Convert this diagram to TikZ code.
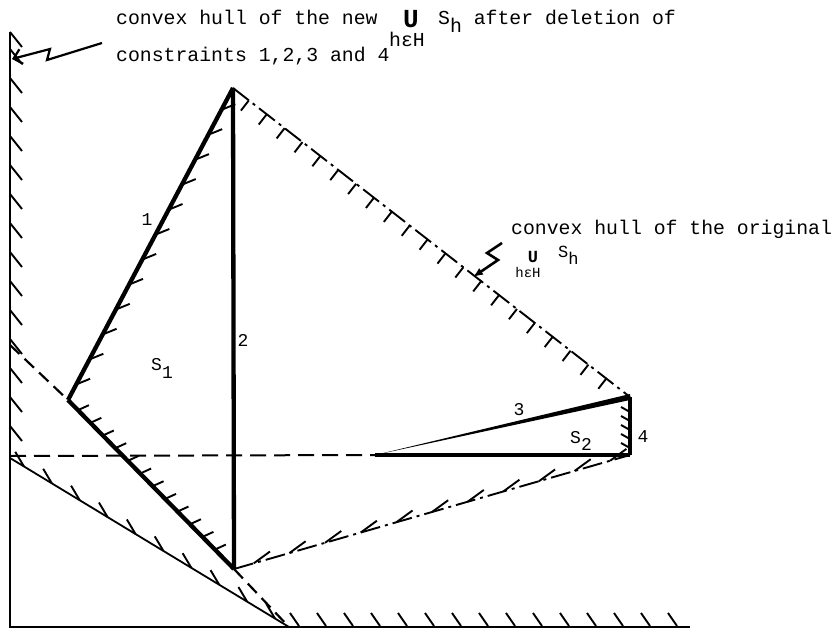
\documentclass[tikz,border=0pt]{standalone}
\usepackage{fontspec}
\newfontfamily\hullfont{Liberation Mono}
\usetikzlibrary{arrows.meta,calc}

\begin{document}
\begin{tikzpicture}[x=1pt,y=-1pt,
    font=\hullfont\fontsize{19.8}{22}\selectfont,
    axisline/.style={line width=2.6pt},
    edge/.style={line width=4.3pt},
    thinline/.style={line width=1.8pt},
    hatch/.style={line width=1.9pt},
    hullline/.style={line width=1.9pt, dash pattern=on 20pt off 5pt on 3pt off 5pt},
    boundline/.style={line width=2.2pt, dash pattern=on 13pt off 7pt},
    txt/.style={inner sep=0pt, anchor=base west},
    lbl/.style={inner sep=0pt, font=\hullfont\fontsize{18}{20}\selectfont}
  ]
  \useasboundingbox (0,0) rectangle (837,628);

  % axes and vertices
  \coordinate (top) at (10,32);
  \coordinate (orig) at (10,628);
  \coordinate (xend) at (690,627);
  \coordinate (A) at (233,88);
  \coordinate (B) at (68,400);
  \coordinate (C) at (234,569);
  \coordinate (D) at (630,397);
  \coordinate (E) at (630,455);
  \coordinate (F) at (375,455);
  \coordinate (P) at (10,345);
  \coordinate (Q) at (289,627);
  \coordinate (R) at (10,458);
  \coordinate (H) at (10,456);

  \draw[axisline] (top) -- (orig);
  \draw[line width=2pt] (10,627) -- (xend);
  \foreach \y in {32,49,78,...,440}
    \draw[hatch] (10,\y) -- ++(12,15);
  \foreach \x in {290,317,...,680}
    \draw[hatch] (\x,613) -- ++(9,13);

  % constraint lines through the hull
  \draw[boundline] (P) -- (B);
  \draw[boundline] (C) -- (Q);
  \draw[thinline] (R) -- (Q);
  \draw[line width=2pt, dash pattern=on 16pt off 8pt] (H) -- (F);

  % original hull
  \draw[hullline] (A) -- (D);
  \draw[hullline] (C) -- (E);
  \foreach \t in {0.04,0.085,...,0.97}{
    \coordinate (p) at ($(A)!\t!(D)$);
    \draw[hatch] (p) -- ($(p)!13pt!-90:(D)$);
  }
  \foreach \t in {0.05,0.14,...,0.95}{
    \coordinate (p) at ($(C)!\t!(E)$);
    \draw[hatch] (p) -- ($(p)!20pt!20:(E)$);
  }
  \foreach \t in {0.05,0.15,...,0.96}{
    \coordinate (p) at ($(Q)!\t!(R)$);
    \draw[hatch] (p) -- ($(p)!17pt!-28:(R)$);
  }

  % the sets S1 and S2
  \draw[edge] (A) -- (B);
  \draw[edge] (A) -- (C);
  \draw[edge] (B) -- (C);
  \foreach \t in {0.05,0.13,...,0.98}{
    \coordinate (p) at ($(B)!\t!(A)$);
    \draw[hatch] (p) -- ($(p)!15pt!-40:(A)$);
  }
  \foreach \t in {0.06,0.135,...,0.95}{
    \coordinate (p) at ($(B)!\t!(C)$);
    \draw[hatch] (p) -- ($(p)!12pt!70:(C)$);
  }
  \fill (F) -- ($(D)+(0,-3)$) -- ($(D)+(0,3)$) -- cycle;
  \draw[line width=3.5pt] (F) -- (E);
  \draw[edge] (D) -- (E);
  \foreach \y in {412,421,...,450}
    \draw[hatch] (630,\y) -- ++(-9,-5);

  % texts
  \node[txt] (newhull) at (116,25) {convex hull of the new};
  \node[inner sep=0pt, anchor=base] (newU) at (411,28) {\fontsize{26}{26}\selectfont\bfseries U};
  \node[inner sep=0pt, anchor=base] (newH) at (407,47) {hεH};
  \node[txt] (newS) at (438,25) {S\raisebox{-8pt}{h} after deletion of};
  \node[txt] (constr) at (116,62) {constraints 1,2,3 and 4};
  \node[txt] (oldhull) at (511,235) {convex hull of the original};
  \node[inner sep=0pt, anchor=base] (oldU) at (533,262) {\fontsize{17}{17}\selectfont\bfseries U};
  \node[inner sep=0pt, anchor=base west] (oldS) at (558,258) {\fontsize{17}{17}\selectfont S\raisebox{-6pt}{h}};
  \node[inner sep=0pt, anchor=base] (oldH) at (528,277) {\fontsize{14}{14}\selectfont hεH};

  \node[lbl] (lab1) at (147,220) {1};
  \node[lbl] (lab2) at (243,340) {2};
  \node[lbl] (lab3) at (519,410) {3};
  \node[lbl] (lab4) at (643,437) {4};
  \node[lbl, anchor=base west] (labS1) at (151,370) {S\raisebox{-8pt}{1}};
  \node[lbl, anchor=base west] (labS2) at (570,443) {S\raisebox{-7pt}{2}};

  % pointers
  \coordinate (newtail) at (102,43);
  \coordinate (newtip) at (12,59);
  \draw[line width=2.2pt, -{Straight Barb[length=8pt,width=15pt]}] (newtail) -- ++(-55,17) -- ++(3,-11) -- (newtip);
  \coordinate (oldtail) at (502,243);
  \coordinate (oldtip) at (473,277);
  \draw[line width=2.6pt, -{Latex[length=10pt,width=8pt]}] (oldtail) -- (487,253) -- (498,260) -- (oldtip);
\end{tikzpicture}
\end{document}
